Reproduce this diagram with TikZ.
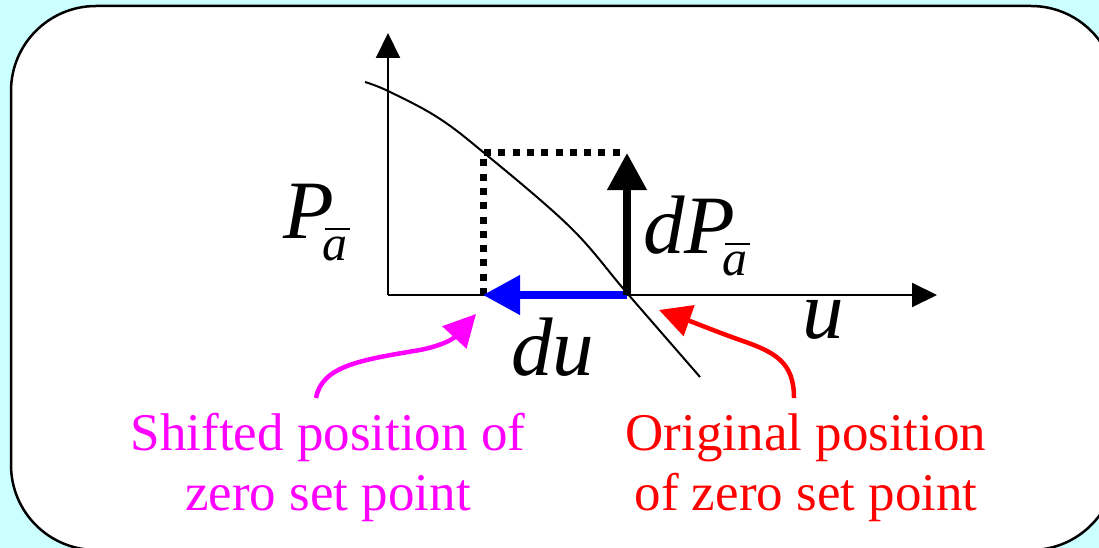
\documentclass[tikz,border=0pt]{standalone}
\usepackage{fontspec}
\setmainfont{Liberation Serif}
\usetikzlibrary{arrows.meta}
\definecolor{bgcyan}{RGB}{204,255,255}
\definecolor{mymag}{RGB}{255,0,255}
\definecolor{myred}{RGB}{255,0,0}
\definecolor{myblue}{RGB}{0,0,255}
\tikzset{
  axis/.style={line width=2pt, -{Triangle[length=25pt,width=24pt]}},
  bigarrow/.style={line width=7.5pt, -{Triangle[length=37pt,width=38pt]}},
  dotline/.style={line width=7pt, dash pattern=on 7pt off 7.3pt},
  pointer/.style={line width=4.5pt, -{Triangle[length=32pt,width=32pt]}},
  bigmath/.style={inner sep=0pt, anchor=base west, font=\fontsize{83}{83}\selectfont\itshape},
  label/.style={inner sep=0pt, anchor=base, align=center, font=\fontsize{53}{60}\selectfont}
}
\newcommand{\barA}{\raisebox{-22pt}{\fontsize{50}{50}\selectfont\itshape\makebox[0pt][l]{\hspace{0.06em}\raisebox{0.6em}{\rule{0.5em}{1.8pt}}}a}}
\begin{document}
\begin{tikzpicture}[x=1pt,y=-1pt]
\useasboundingbox (0,0) rectangle (1099,548);
\fill[bgcyan] (0,0) rectangle (1099,548);
\begin{scope}
\clip (0,0) rectangle (1099,548);
\draw[line width=2.5pt, fill=white, rounded corners=85pt] (11,6) rectangle (1116,550);
\end{scope}
% coordinates
\coordinate (O) at (388,295);
\coordinate (Ytip) at (388,33);
\coordinate (Xtip) at (937,295);
\coordinate (Z0) at (627,295);
\coordinate (Z1) at (483,295);
\coordinate (C) at (483,153);
\coordinate (Ctop) at (627,153);
\coordinate (Dr) at (622,153);
% axes
\draw[axis] (O) -- (Ytip);
\draw[axis] (O) -- (Xtip);
% curve
\draw[line width=2pt] plot[smooth, tension=0.6] coordinates {(365,82) (388,91) (437,117) (483,152) (570,227) (627,293) (700,377)};
% dotted
\draw[dotline] (Z1) -- (C) -- (Dr);
% arrows
\draw[bigarrow, myblue] (Z0) -- (Z1);
\draw[bigarrow, black] (Z0) -- (Ctop);
% labels
\node[bigmath] (P) at (283,238) {P\hspace{-11.5pt}\barA};
\node[bigmath] (dP) at (643,253) {dP\hspace{-13pt}\barA};
\node[bigmath] (u) at (802,338) {u};
\node[bigmath] (du) at (511,375) {du};
% pointers
\coordinate (ms) at (316,398);
\coordinate (mt) at (476,314);
\coordinate (rs) at (794,398);
\coordinate (rt) at (659,310);
\draw[pointer, mymag] (ms) .. controls (322,366) and (360,360) .. (420,350) .. controls (440,346) and (452,340) .. (mt);
\draw[pointer, myred] (rs) .. controls (794,362) and (775,352) .. (740,340) .. controls (720,333) and (690,321) .. (rt);
\node[label, text=mymag] (L1) at (328,510) {Shifted position of\\zero set point};
\node[label, text=myred] (L2) at (806,510) {Original position\\of zero set point};
\end{tikzpicture}
\end{document}
